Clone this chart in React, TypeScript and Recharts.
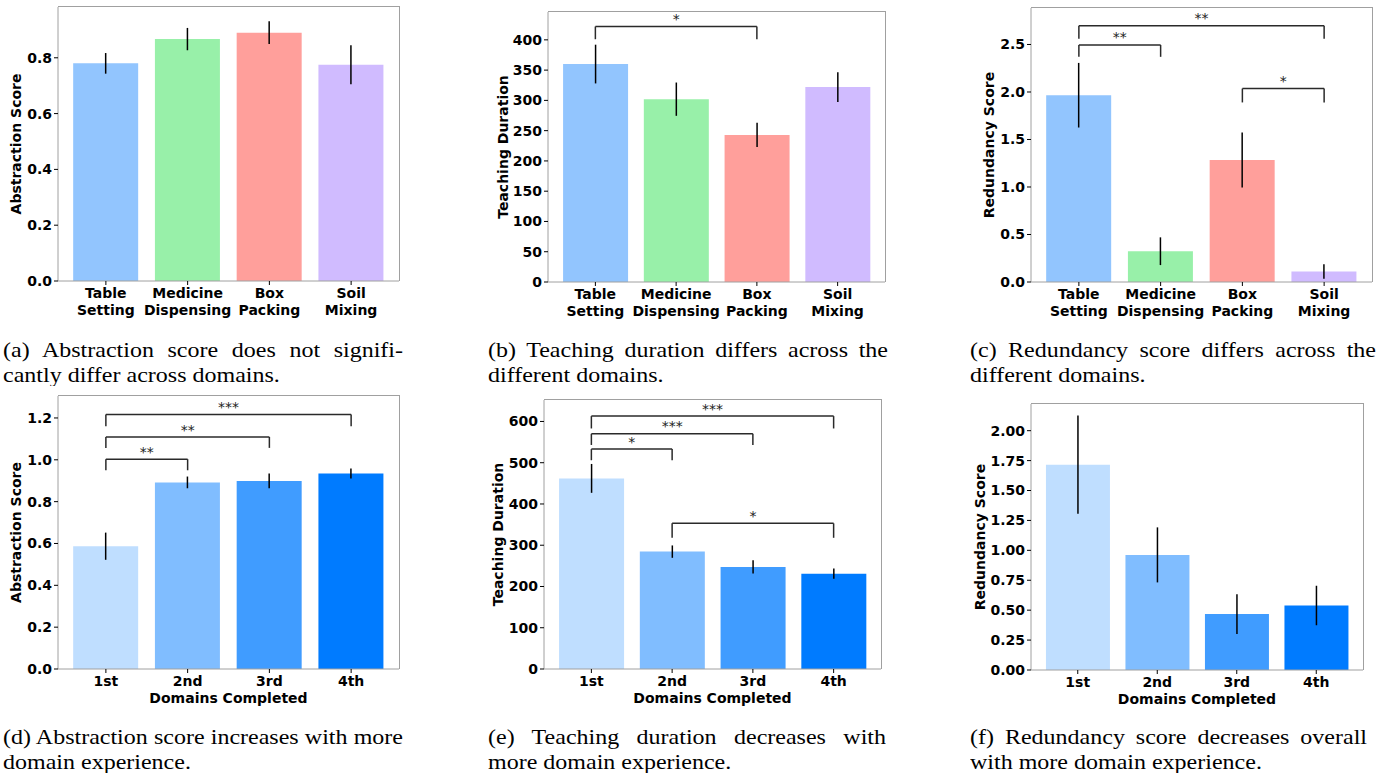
import React from 'react';
import { BarChart, Bar, Cell, XAxis, YAxis, ErrorBar, ReferenceLine } from 'recharts';

// Categories
const domains = ['Table Setting', 'Medicine Dispensing', 'Box Packing', 'Soil Mixing'];
const order = ['1st', '2nd', '3rd', '4th'];

// Top row: per-domain values and errors
const abstractionByDomain = [0.78, 0.867, 0.89, 0.775];
const abstractionByDomainErr = [0.037, 0.04, 0.041, 0.07];
const durationByDomain = [360, 302, 243, 322];
const durationByDomainErr = [32, 27.5, 20, 24.5];
const redundancyByDomain = [1.966, 0.324, 1.284, 0.11];
const redundancyByDomainErr = [0.34, 0.146, 0.29, 0.076];

// Bottom row: per-order values and errors
const abstractionByOrder = [0.587, 0.892, 0.899, 0.935];
const abstractionByOrderErr = [0.065, 0.028, 0.035, 0.024];
const durationByOrder = [462, 284.5, 247.5, 231];
const durationByOrderErr = [35, 15, 16, 12.5];
const redundancyByOrder = [1.716, 0.962, 0.467, 0.539];
const redundancyByOrderErr = [0.41, 0.23, 0.167, 0.165];

// Tick labels
const ticksA = [0, 0.2, 0.4, 0.6, 0.8];
const ticksB = [0, 50, 100, 150, 200, 250, 300, 350, 400];
const ticksC = [0, 0.5, 1.0, 1.5, 2.0, 2.5];
const ticksD = [0, 0.2, 0.4, 0.6, 0.8, 1.0, 1.2];
const ticksE = [0, 100, 200, 300, 400, 500, 600];
const ticksF = [0, 0.25, 0.5, 0.75, 1.0, 1.25, 1.5, 1.75, 2.0];

// Significance brackets (data units)
type Bracket = { from: string; to: string; y: number; h: number; label: string };
const bracketsB: Bracket[] = [{ from: 'Table Setting', to: 'Box Packing', y: 401, h: 21, label: '*' }];
const bracketsC: Bracket[] = [
  { from: 'Table Setting', to: 'Medicine Dispensing', y: 2.37, h: 0.125, label: '**' },
  { from: 'Table Setting', to: 'Soil Mixing', y: 2.56, h: 0.137, label: '**' },
  { from: 'Box Packing', to: 'Soil Mixing', y: 1.89, h: 0.146, label: '*' },
];
const bracketsD: Bracket[] = [
  { from: '1st', to: '2nd', y: 0.95, h: 0.053, label: '**' },
  { from: '1st', to: '3rd', y: 1.057, h: 0.052, label: '**' },
  { from: '1st', to: '4th', y: 1.16, h: 0.057, label: '***' },
];
const bracketsE: Bracket[] = [
  { from: '1st', to: '2nd', y: 506, h: 27, label: '*' },
  { from: '1st', to: '3rd', y: 543, h: 27, label: '***' },
  { from: '1st', to: '4th', y: 583, h: 30, label: '***' },
  { from: '2nd', to: '4th', y: 318, h: 35, label: '*' },
];

const domainColors = ['#92C5FE', '#98F0A9', '#FF9F9B', '#D0BBFF'];
const orderColors = ['#BFDEFF', '#80BDFF', '#409CFF', '#007BFF'];

const FONT = 'DejaVu Sans';
const boldText = { fontFamily: FONT, fontSize: 14, fontWeight: 'bold' as const, fill: '#000' };
const SPINE = '#a0a0a0';

const rows = (names: string[], values: number[], errs: number[]) =>
  names.map((name, i) => ({ name, value: values[i], err: errs[i] }));

function CatTick({ x, y, payload }: any) {
  const lines = String(payload.value).split(' ');
  return (
    <text x={x} y={y} textAnchor="middle" style={boldText}>
      {lines.map((l, i) => (
        <tspan key={i} x={x} dy={i === 0 ? 11 : 17}>
          {l}
        </tspan>
      ))}
    </text>
  );
}

function YTitle({ viewBox, value, gap }: any) {
  const cx = viewBox.x + viewBox.width - gap;
  const cy = viewBox.y + viewBox.height / 2;
  return (
    <text x={cx} y={cy} dy="0.36em" transform={`rotate(-90, ${cx}, ${cy})`} textAnchor="middle" style={boldText}>
      {value}
    </text>
  );
}

function XTitle({ viewBox, value }: any) {
  return (
    <text x={viewBox.x + viewBox.width / 2} y={viewBox.y + 34} textAnchor="middle" style={boldText}>
      {value}
    </text>
  );
}

function StarLabel({ viewBox, value }: any) {
  return (
    <text
      x={viewBox.x + viewBox.width / 2}
      y={viewBox.y - 2.5}
      textAnchor="middle"
      style={{ fontFamily: FONT, fontSize: 14, fill: '#222' }}
    >
      {value}
    </text>
  );
}

interface PanelProps {
  left: number;
  top: number;
  plotW: number;
  plotH: number;
  data: { name: string; value: number; err: number }[];
  colors: string[];
  domain: [number, number];
  ticks: number[];
  decimals: number;
  yLabel: string;
  yGap: number;
  xLabel?: string;
  brackets?: Bracket[];
}

const AXW = 60;
const TOPM = 6;
const AXH = 45;

function Panel(p: PanelProps) {
  const lineProps = { stroke: '#2a2a2a', strokeWidth: 1.5, ifOverflow: 'visible' as const };
  return (
    <div style={{ position: 'absolute', left: p.left - AXW, top: p.top - TOPM }}>
      <BarChart
        width={AXW + p.plotW + 8}
        height={TOPM + p.plotH + AXH}
        data={p.data}
        margin={{ top: TOPM, right: 8, bottom: 0, left: 0 }}
        barCategoryGap="10%"
      >
        <XAxis
          dataKey="name"
          interval={0}
          padding={{ left: 7, right: 7 }}
          tick={<CatTick />}
          tickSize={4}
          tickLine={{ stroke: '#000' }}
          axisLine={{ stroke: SPINE }}
          height={AXH}
          label={p.xLabel ? <XTitle value={p.xLabel} /> : undefined}
        />
        <YAxis
          domain={p.domain}
          ticks={p.ticks}
          interval={0}
          tickFormatter={(v: number) => v.toFixed(p.decimals)}
          tick={boldText}
          tickSize={4}
          tickLine={{ stroke: '#000' }}
          axisLine={{ stroke: SPINE }}
          width={AXW}
          label={<YTitle value={p.yLabel} gap={p.yGap} />}
        />
        <Bar dataKey="value" isAnimationActive={false}>
          {p.data.map((d, i) => (
            <Cell key={d.name} fill={p.colors[i]} />
          ))}
          <ErrorBar dataKey="err" width={0} stroke="#000" strokeWidth={1.5} />
        </Bar>
        {(p.brackets || []).flatMap((b, i) => [
          <ReferenceLine
            key={`l${i}`}
            segment={[{ x: b.from, y: b.y }, { x: b.from, y: b.y + b.h }]}
            {...lineProps}
          />,
          <ReferenceLine
            key={`r${i}`}
            segment={[{ x: b.to, y: b.y }, { x: b.to, y: b.y + b.h }]}
            {...lineProps}
          />,
          <ReferenceLine
            key={`t${i}`}
            segment={[{ x: b.from, y: b.y + b.h }, { x: b.to, y: b.y + b.h }]}
            {...lineProps}
            label={<StarLabel value={b.label} />}
          />,
        ])}
      </BarChart>
      {/* top and right spines of the axes box */}
      <div
        style={{
          position: 'absolute',
          left: AXW,
          top: TOPM - 1,
          width: p.plotW,
          height: p.plotH,
          borderTop: `1px solid ${SPINE}`,
          borderRight: `1px solid ${SPINE}`,
          pointerEvents: 'none',
        }}
      />
    </div>
  );
}

const captionStyle: React.CSSProperties = {
  position: 'absolute',
  fontFamily: '"Liberation Serif", "Times New Roman", serif',
  fontSize: 24,
  lineHeight: '28px',
  color: '#000',
  transform: 'scaleY(0.89)',
  transformOrigin: 'top left',
};

function Caption({ left, top, width, lines }: { left: number; top: number; width: number; lines: string[] }) {
  return (
    <div style={{ ...captionStyle, left, top, width }}>
      <div style={{ textAlign: 'justify', textAlignLast: 'justify', whiteSpace: 'nowrap' }}>{lines[0]}</div>
      <div style={{ whiteSpace: 'nowrap' }}>{lines[1]}</div>
    </div>
  );
}

export default function App() {
  return (
    <div style={{ position: 'absolute', left: 0, top: 0, width: 1391, height: 779, background: '#fff' }}>
      <Panel
        left={58}
        top={7}
        plotW={341}
        plotH={274}
        data={rows(domains, abstractionByDomain, abstractionByDomainErr)}
        colors={domainColors}
        domain={[0, 0.982]}
        ticks={ticksA}
        decimals={1}
        yLabel="Abstraction Score"
        yGap={42}
      />
      <Panel
        left={548}
        top={12}
        plotW={337}
        plotH={270}
        data={rows(domains, durationByDomain, durationByDomainErr)}
        colors={domainColors}
        domain={[0, 446]}
        ticks={ticksB}
        decimals={0}
        yLabel="Teaching Duration"
        yGap={45}
        brackets={bracketsB}
      />
      <Panel
        left={1031}
        top={8}
        plotW={341}
        plotH={274}
        data={rows(domains, redundancyByDomain, redundancyByDomainErr)}
        colors={domainColors}
        domain={[0, 2.884]}
        ticks={ticksC}
        decimals={1}
        yLabel="Redundancy Score"
        yGap={42}
        brackets={bracketsC}
      />
      <Panel
        left={58}
        top={396}
        plotW={341}
        plotH={273}
        data={rows(order, abstractionByOrder, abstractionByOrderErr)}
        colors={orderColors}
        domain={[0, 1.305]}
        ticks={ticksD}
        decimals={1}
        yLabel="Abstraction Score"
        yGap={42}
        xLabel="Domains Completed"
        brackets={bracketsD}
      />
      <Panel
        left={544}
        top={400}
        plotW={337}
        plotH={269}
        data={rows(order, durationByOrder, durationByOrderErr)}
        colors={orderColors}
        domain={[0, 652]}
        ticks={ticksE}
        decimals={0}
        yLabel="Teaching Duration"
        yGap={46}
        xLabel="Domains Completed"
        brackets={bracketsE}
      />
      <Panel
        left={1031}
        top={404}
        plotW={332}
        plotH={266}
        data={rows(order, redundancyByOrder, redundancyByOrderErr)}
        colors={orderColors}
        domain={[0, 2.223]}
        ticks={ticksF}
        decimals={2}
        yLabel="Redundancy Score"
        yGap={51}
        xLabel="Domains Completed"
      />

      <Caption left={3} top={337} width={400} lines={['(a) Abstraction score does not signifi-', 'cantly differ across domains.']} />
      <Caption left={488} top={337} width={400} lines={['(b) Teaching duration differs across the', 'different domains.']} />
      <Caption left={970} top={337} width={406} lines={['(c) Redundancy score differs across the', 'different domains.']} />
      <Caption left={3} top={724} width={400} lines={['(d) Abstraction score increases with more', 'domain experience.']} />
      <Caption left={488} top={724} width={398} lines={['(e) Teaching duration decreases with', 'more domain experience.']} />
      <Caption left={970} top={724} width={397} lines={['(f) Redundancy score decreases overall', 'with more domain experience.']} />
    </div>
  );
}
